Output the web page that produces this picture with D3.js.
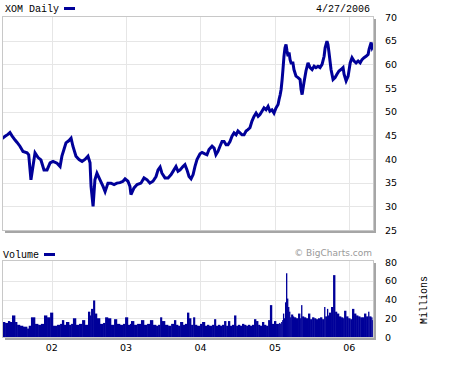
<!DOCTYPE html>
<html><head><meta charset="utf-8">
<script src="https://cdn.jsdelivr.net/npm/d3@7"></script>
<style>html,body{margin:0;padding:0;background:#fff;}svg{display:block;}</style>
</head><body>
<svg id="c" width="452" height="366"></svg>
<script>
const dates = ["2001-05-02","2001-05-17","2001-05-31","2001-06-10","2001-06-20","2001-07-05","2001-07-15","2001-07-29","2001-08-13","2001-09-02",
"2001-09-10","2001-09-21","2001-10-11","2001-10-26","2001-11-09","2001-11-24","2001-12-09","2001-12-24","2002-01-07","2002-01-27",
"2002-02-11","2002-02-20","2002-03-02","2002-03-12","2002-03-27","2002-04-06","2002-04-15","2002-04-30","2002-05-15","2002-05-30",
"2002-06-13","2002-06-28","2002-07-08","2002-07-13","2002-07-23","2002-08-01","2002-08-11","2002-08-26","2002-09-10","2002-09-20",
"2002-10-04","2002-10-19","2002-11-03","2002-11-17","2002-12-02","2002-12-17","2002-12-27","2003-01-10","2003-01-20","2003-01-25",
"2003-02-09","2003-02-24","2003-03-15","2003-03-30","2003-04-14","2003-04-28","2003-05-13","2003-05-28","2003-06-07","2003-06-17",
"2003-06-26","2003-07-11","2003-07-26","2003-08-10","2003-08-24","2003-09-03","2003-09-13","2003-09-23","2003-10-07","2003-10-17",
"2003-10-27","2003-11-06","2003-11-16","2003-11-26","2003-12-05","2003-12-15","2003-12-30","2004-01-09","2004-01-23","2004-02-02",
"2004-02-12","2004-02-27","2004-03-08","2004-03-17","2004-03-27","2004-04-06","2004-04-16","2004-04-26","2004-05-06","2004-05-15",
"2004-05-25","2004-06-04","2004-06-14","2004-06-24","2004-07-03","2004-07-13","2004-07-23","2004-08-02","2004-08-12","2004-08-21",
"2004-08-31","2004-09-10","2004-09-20","2004-09-30","2004-10-10","2004-10-19","2004-10-29","2004-11-08","2004-11-18","2004-11-28",
"2004-12-07","2004-12-17","2004-12-27","2005-01-06","2005-01-16","2005-01-21","2005-01-26","2005-01-31","2005-02-05","2005-02-09",
"2005-02-14","2005-02-19","2005-02-24","2005-03-01","2005-03-06","2005-03-11","2005-03-16","2005-03-21","2005-03-30","2005-04-04",
"2005-04-14","2005-04-24","2005-05-04","2005-05-09","2005-05-14","2005-05-23","2005-06-02","2005-06-12","2005-06-22","2005-07-02",
"2005-07-12","2005-07-21","2005-07-31","2005-08-10","2005-08-20","2005-08-30","2005-09-04","2005-09-13","2005-09-18","2005-09-23",
"2005-10-03","2005-10-13","2005-10-23","2005-11-01","2005-11-11","2005-11-21","2005-12-01","2005-12-06","2005-12-16","2005-12-26",
"2006-01-05","2006-01-14","2006-01-24","2006-02-03","2006-02-13","2006-02-23","2006-03-04","2006-03-14","2006-03-24","2006-04-03",
"2006-04-08","2006-04-18","2006-04-23","2006-04-27"];

const prices = [44.3,44.8,45.2,45.6,44.9,44.0,43.5,42.7,41.6,41.3,
40.9,35.6,41.3,40.3,39.8,37.7,37.7,39.2,39.5,39.1,
38.4,40.6,42.0,43.4,43.9,44.4,42.7,40.6,39.9,39.5,
39.9,40.6,39.2,34.2,30.0,35.6,37.0,35.6,34.2,33.1,
34.9,34.9,34.6,34.9,35.0,35.3,35.8,35.3,34.2,32.5,
33.9,34.6,34.9,36.0,35.6,34.9,35.3,36.3,37.7,38.3,
37.0,36.0,36.0,36.7,37.7,38.4,37.4,37.7,38.4,38.8,
37.7,36.3,35.8,36.7,38.4,39.9,41.1,41.4,41.1,40.9,
42.0,42.7,42.3,40.9,41.6,42.7,43.7,43.7,43.0,43.0,
43.7,44.8,45.5,45.1,45.9,45.5,45.1,45.1,45.9,46.2,
46.6,48.0,49.0,49.7,49.0,49.4,50.1,50.8,50.4,51.1,
50.1,50.4,49.7,50.8,51.5,52.6,53.5,54.7,56.8,58.9,
61.7,63.5,64.2,62.8,61.7,62.5,61.0,60.3,60.3,58.9,
57.5,57.2,56.8,54.7,53.6,56.1,58.6,60.3,59.3,58.9,
59.6,59.3,59.6,59.3,60.0,61.7,63.5,64.9,64.2,62.5,
58.9,56.8,57.2,57.9,58.6,58.9,59.3,57.9,56.5,57.5,
60.3,61.4,60.7,60.3,60.7,60.3,61.0,61.4,61.7,62.1,
63.2,64.6,63.5,63.8];

const volumes = [16,15,17,16,23,16,13,12,11,9,
12,21,14,13,14,23,21,26,12,13,
14,18,13,16,13,14,20,13,14,18,
13,27,23,30,39,25,20,14,15,21,
20,13,19,14,13,14,21,13,14,17,
13,14,18,13,14,18,13,12,13,21,
17,13,12,14,18,13,12,16,13,14,
26,20,13,21,13,12,14,16,12,13,
12,13,19,12,13,12,13,17,12,17,
12,13,23,12,13,12,14,13,12,13,
12,13,19,17,13,12,16,13,12,18,
34,14,17,14,14,15,14,16,18,25,
20,37,68,41,32,27,21,24,22,21,
20,25,20,34,22,21,20,25,19,21,
20,19,20,21,19,32,22,30,23,26,
32,66,27,25,22,21,20,28,22,20,
19,30,25,23,22,21,21,25,22,27,
22,21,18,18];

const priceTicks = [25,30,35,40,45,50,55,60,65,70];
const volTicks = [0,20,40,60,80];
const yearTicks = ["2002-01-01","2003-01-01","2004-01-01","2005-01-01","2006-01-01"];
const yearLabels = ["02","03","04","05","06"];

const parse = d3.timeParse("%Y-%m-%d");
const data = dates.map((d,i)=>({date:parse(d), price:prices[i], vol:volumes[i]}));

const svg = d3.select("#c");
const navy = "#000099";
const sansFont = "Verdana, 'DejaVu Sans', sans-serif";
const monoFont = "'Liberation Mono', 'DejaVu Sans Mono', monospace";

const L = 2, R = 373;
const x = d3.scaleTime().domain([parse("2001-04-27"), parse("2006-04-27")]).range([1, 373]);
const pTop = 17, pBot = 230;
const y = d3.scaleLinear().domain([25,70]).range([pBot, pTop]);
const vTop = 262, vBot = 337;
const yv = d3.scaleLinear().domain([0,80]).range([vBot, vTop]);

function panel(top, bot, hTicks, scale, id){
  svg.append("rect").attr("x", L+3).attr("y", top+2).attr("width", R-L).attr("height", bot-top+1)
    .attr("fill", "#a6a6a6");
  svg.append("rect").attr("x", L).attr("y", top-1).attr("width", R-L+1).attr("height", bot-top+2)
    .attr("fill", "#fff");
  const g = svg.append("g");
  g.selectAll("line.h").data(hTicks).join("line")
    .attr("x1", L).attr("x2", R).attr("y1", d=>Math.round(scale(d))+0.5).attr("y2", d=>Math.round(scale(d))+0.5)
    .attr("stroke", "#e6e6e6").attr("stroke-width", 1);
  g.selectAll("line.v").data(yearTicks).join("line")
    .attr("y1", top).attr("y2", bot).attr("x1", d=>Math.round(x(parse(d)))+0.5).attr("x2", d=>Math.round(x(parse(d)))+0.5)
    .attr("stroke", "#e6e6e6").attr("stroke-width", 1);
  svg.append("clipPath").attr("id", id).append("rect")
    .attr("x", L+1).attr("y", top).attr("width", R-L-1).attr("height", bot-top);
}

panel(pTop, pBot, priceTicks.slice(1,-1), y, "clipP");
panel(vTop-1, vBot, volTicks.slice(1,-1), yv, "clipV");

const line = d3.line().x(d=>x(d.date)).y(d=>y(d.price)).curve(d3.curveLinear);
svg.append("path").datum(data).attr("clip-path","url(#clipP)")
  .attr("d", line).attr("fill","none").attr("stroke", navy).attr("stroke-width", 3).attr("stroke-linejoin","miter").attr("stroke-miterlimit", 3);

svg.append("g").attr("clip-path","url(#clipV)").selectAll("rect").data(data).join("rect")
  .attr("x", d=>x(d.date))
  .attr("width", (d,i)=> i<data.length-1 ? Math.max(1, x(data[i+1].date)-x(d.date)+0.3) : 1.5)
  .attr("y", d=>yv(d.vol)).attr("height", d=>vBot - yv(d.vol))
  .attr("fill", navy);

svg.append("rect").attr("x", L+0.5).attr("y", pTop-0.5).attr("width", R-L).attr("height", pBot-pTop+1)
  .attr("fill","none").attr("stroke","#c8c8c8");
svg.append("rect").attr("x", L+0.5).attr("y", vTop-1.5).attr("width", R-L).attr("height", vBot-vTop+2)
  .attr("fill","none").attr("stroke","#c8c8c8");

svg.append("g").selectAll("text").data(priceTicks).join("text")
  .attr("x", 385).attr("y", d=>y(d)+3.5).text(d=>d)
  .attr("font-family", sansFont).attr("font-size", 9.5).attr("fill","#000");
svg.append("g").selectAll("text").data(volTicks).join("text")
  .attr("x", 385).attr("y", d=>yv(d)+3.5).text(d=>d)
  .attr("font-family", sansFont).attr("font-size", 9.5).attr("fill","#000");

svg.append("g").selectAll("text").data(yearTicks).join("text")
  .attr("x", d=>x(parse(d))).attr("y", 351).attr("text-anchor","middle")
  .text((d,i)=>yearLabels[i])
  .attr("font-family", sansFont).attr("font-size", 9.5).attr("fill","#000");

svg.append("text").attr("x", 5).attr("y", 12).text("XOM Daily")
  .attr("font-family", monoFont).attr("font-size", 10).attr("fill","#000");
svg.append("rect").attr("x", 64).attr("y", 7).attr("width", 11).attr("height", 3).attr("fill", navy);
svg.append("text").attr("x", 370).attr("y", 12).attr("text-anchor","end").text("4/27/2006")
  .attr("font-family", monoFont).attr("font-size", 10).attr("fill","#000");

svg.append("text").attr("x", 3).attr("y", 258).text("Volume")
  .attr("font-family", monoFont).attr("font-size", 10).attr("fill","#000");
svg.append("rect").attr("x", 44).attr("y", 253).attr("width", 11).attr("height", 3).attr("fill", navy);
svg.append("text").attr("x", 372).attr("y", 256).attr("text-anchor","end").text("© BigCharts.com")
  .attr("font-family", sansFont).attr("font-size", 9).attr("fill","#999");

svg.append("text").attr("transform","translate(427,300) rotate(-90)").attr("text-anchor","middle")
  .text("Millions").attr("font-family", monoFont).attr("font-size", 10).attr("fill","#000");
</script>
</body></html>
